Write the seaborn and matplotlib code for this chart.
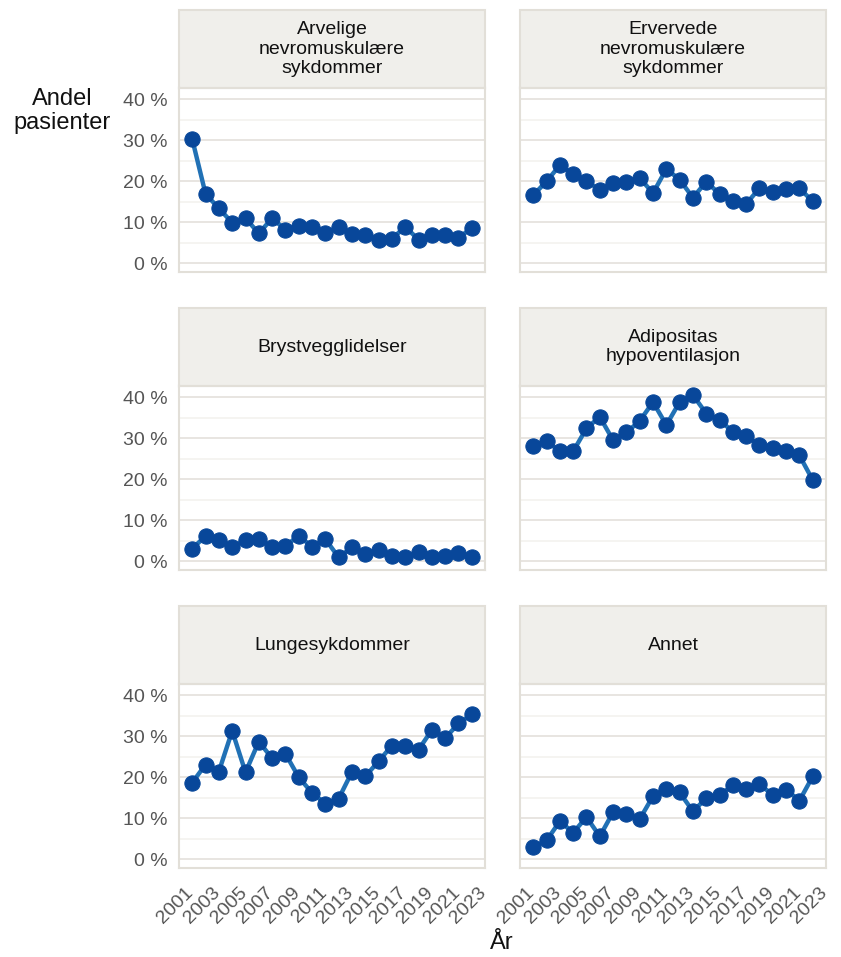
import pandas as pd
import matplotlib.pyplot as plt
import matplotlib.ticker as mticker
import matplotlib.transforms as mtransforms
from matplotlib.patches import Rectangle
import seaborn as sns

# Årstall og grupper
aar = list(range(2002, 2024))
grupper = [
    "Arvelige\nnevromuskulære\nsykdommer",
    "Ervervede\nnevromuskulære\nsykdommer",
    "Brystvegglidelser",
    "Adipositas\nhypoventilasjon",
    "Lungesykdommer",
    "Annet",
]

# Andel pasienter (%) per gruppe
arvelige = [30.2, 16.9, 13.4, 9.9, 11.0, 7.3, 11.0, 8.2, 9.1, 8.8, 7.4,
            8.9, 7.2, 6.9, 5.8, 6.0, 8.9, 5.8, 6.8, 6.8, 6.1, 8.7]
ervervede = [16.6, 20.0, 23.9, 21.7, 20.0, 17.9, 19.6, 19.7, 20.8, 17.1, 23.0,
             20.4, 16.0, 19.9, 16.9, 15.2, 14.5, 18.3, 17.3, 18.2, 18.3, 15.1]
brystvegg = [3.1, 6.2, 5.1, 3.4, 5.3, 5.5, 3.4, 3.8, 6.2, 3.6, 5.4,
             1.0, 3.4, 1.9, 2.8, 1.4, 1.0, 2.2, 1.0, 1.2, 2.1, 1.0]
adipositas = [28.2, 29.3, 26.8, 26.8, 32.4, 35.2, 29.5, 31.4, 34.2, 38.8, 33.2,
              38.8, 40.5, 36.0, 34.5, 31.5, 30.6, 28.3, 27.5, 27.0, 25.8, 19.8]
lunge = [18.7, 23.1, 21.4, 31.3, 21.2, 28.7, 24.6, 25.7, 20.0, 16.2, 13.6,
         14.8, 21.3, 20.2, 23.9, 27.7, 27.5, 26.7, 31.5, 29.5, 33.1, 35.3]
annet = [3.1, 4.6, 9.3, 6.5, 10.3, 5.6, 11.5, 11.0, 9.8, 15.4, 17.1,
         16.3, 11.7, 14.9, 15.7, 18.0, 17.1, 18.3, 15.7, 17.0, 14.3, 20.2]

serier = [arvelige, ervervede, brystvegg, adipositas, lunge, annet]
rows = []
for gruppe, verdier in zip(grupper, serier):
    for a, v in zip(aar, verdier):
        rows.append({"aar": a, "andel": v, "gruppe": gruppe})
df = pd.DataFrame(rows)

sns.set_style("white")
plt.rcParams["font.family"] = ["Liberation Sans", "DejaVu Sans"]

linje_farge = "#2171b5"
punkt_farge = "#08479a"
ramme_farge = "#e2dfd8"
strip_farge = "#f0efeb"
tekst_gra = "#555555"

g = sns.relplot(
    data=df, x="aar", y="andel", col="gruppe", col_wrap=2, kind="line",
    marker="o", color=linje_farge, linewidth=3.2, markersize=11,
    markerfacecolor=punkt_farge, markeredgecolor=punkt_farge,
    col_order=grupper, facet_kws=dict(sharex=True, sharey=True),
)
fig = g.figure
fig.set_size_inches(8.41, 9.57)
g.set_titles("")
g.set_axis_labels("", "")

skift = mtransforms.ScaledTranslation(6 / 100, -4 / 100, fig.dpi_scale_trans)

for ax, gruppe in zip(g.axes.flat, grupper):
    ax.set_xlim(2001, 2024)
    ax.set_ylim(-2.1, 42.7)
    ax.set_xticks(range(2001, 2024, 2))
    ax.yaxis.set_major_locator(mticker.MultipleLocator(10))
    ax.yaxis.set_minor_locator(mticker.MultipleLocator(5))
    ax.yaxis.set_major_formatter(mticker.FuncFormatter(lambda v, p: f"{v:.0f} %"))
    ax.grid(axis="y", which="major", color="#e6e3de", linewidth=1.3)
    ax.grid(axis="y", which="minor", color="#f3f1ee", linewidth=1.1)
    ax.grid(axis="x", visible=False)
    ax.set_axisbelow(True)
    for s in ax.spines.values():
        s.set_visible(True)
        s.set_color(ramme_farge)
        s.set_linewidth(1.5)
    ax.tick_params(axis="both", which="major", length=5, width=1, color="#999999",
                   labelcolor=tekst_gra, labelsize=14)
    ax.tick_params(axis="y", which="minor", length=0)
    ax.tick_params(axis="x", which="major", labelrotation=45)
    for lab in ax.get_xticklabels():
        lab.set_ha("right")
        lab.set_rotation_mode("anchor")
        lab.set_transform(lab.get_transform() + skift)
    # strip med gruppenavn
    strip_h = 78 / 184
    ax.add_patch(Rectangle((0, 1.0), 1, strip_h, transform=ax.transAxes,
                           facecolor=strip_farge, edgecolor=ramme_farge,
                           linewidth=1.5, clip_on=False))
    ax.text(0.5, 1.0 + strip_h / 2, gruppe, transform=ax.transAxes,
            ha="center", va="center", fontsize=14, color="#111111",
            linespacing=1.2)

fig.subplots_adjust(left=0.2128, right=0.9822, top=0.908, bottom=0.093,
                    hspace=0.62, wspace=0.114)

fig.text(62 / 841, 1 - 111 / 957, "Andel\npasienter", ha="center", va="center",
         fontsize=17, color="#111111", linespacing=1.1)
fig.text(502 / 841, 1 - 943 / 957, "År", ha="center", va="center",
         fontsize=17, color="#111111")

fig.savefig("out.png", dpi=100)
